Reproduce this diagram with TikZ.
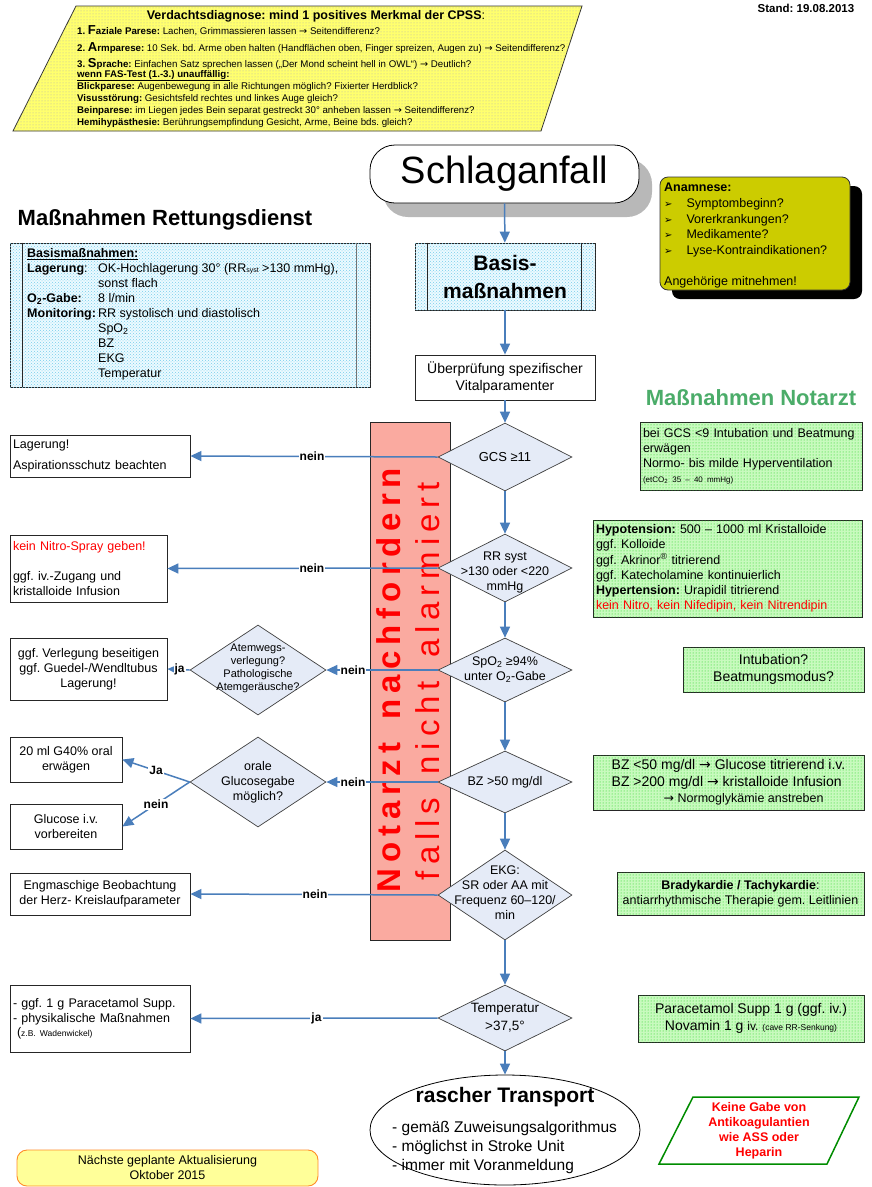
\documentclass[tikz,border=0pt]{standalone}
\usepackage{fontspec}
\setmainfont{Liberation Sans}
\newfontfamily\dejavu{DejaVu Sans}
\newfontfamily\barfont[LetterSpace=18]{Liberation Sans}
\usetikzlibrary{shapes.geometric,patterns,arrows.meta,shadows}
\newcommand\fs[2]{\fontsize{#1}{#2}\selectfont}
\newcommand\ra{{\dejavu →}}
\definecolor{arrowblue}{RGB}{74,126,187}
\definecolor{diafill}{RGB}{229,235,247}
\definecolor{barred}{RGB}{250,170,160}
\definecolor{ntgreen}{RGB}{75,172,105}
\definecolor{olivey}{RGB}{204,204,0}
\definecolor{ylw}{RGB}{255,255,110}
\definecolor{cyanbg}{RGB}{236,250,255}
\definecolor{cyandot}{RGB}{120,205,235}
\definecolor{greenbg}{RGB}{200,250,190}
\definecolor{greendot}{RGB}{20,210,20}
\definecolor{nbfill}{RGB}{255,255,153}
\definecolor{nbdraw}{RGB}{255,140,40}
\definecolor{kgreen}{RGB}{0,140,0}
\begin{document}
\frenchspacing
\begin{tikzpicture}[x=1pt,y=-1pt,
 arr/.style={draw=arrowblue, line width=1.5pt, -{Triangle[length=11pt,width=10pt]}},
 lab/.style={fill=white, inner sep=1pt, font=\fs{12}{14}\bfseries},
 box/.style={draw=black!85, line width=0.8pt, fill=white, inner sep=3pt, font=\fs{12.5}{15}},
 diam/.style={diamond, draw=black!75, line width=0.7pt, fill=diafill, inner sep=0pt},
 dtext/.style={font=\fs{12.5}{15}, align=center, inner sep=0pt},
 gbox/.style={draw=black!85, line width=0.9pt, fill=greenbg, postaction={pattern=dots, pattern color=greendot}, inner sep=3pt, font=\fs{12.5}{15}},
 ptxt/.style={anchor=base west, inner sep=0pt, font=\fs{9.7}{11}},
 head/.style={font=\fs{22}{24}\bfseries, inner sep=0pt},
]
\useasboundingbox (0,0) rectangle (872,1187);
\fill[white] (0,0) rectangle (872,1187);

% ---------- top parallelogram (CPSS)
\path[draw=black!80, line width=0.8pt, fill=ylw, postaction={pattern=dots, pattern color=black!30}]
  (76,6) -- (582,6) -- (541,131) -- (13,131) -- cycle;
\node[anchor=base, inner sep=0pt, font=\fs{12.5}{14}\bfseries] (cpss) at (316,19) {Verdachtsdiagnose: mind 1 positives Merkmal der CPSS\mdseries:};
\node[ptxt] (c1) at (77,34) {\textbf{1. {\fs{13}{13}F}aziale Parese:} Lachen, Grimmassieren lassen \ra{} Seitendifferenz?};
\node[ptxt] (c2) at (77,51) {\textbf{2. {\fs{13}{13}A}rmparese:} 10 Sek. bd. Arme oben halten (Handflächen oben, Finger spreizen, Augen zu) \ra{} Seitendifferenz?};
\node[ptxt] (c3) at (77,67) {\textbf{3. {\fs{13}{13}S}prache:} Einfachen Satz sprechen lassen („Der Mond scheint hell in OWL“) \ra{} Deutlich?};
\node[ptxt] (c4) at (77,77) {\textbf{\underline{wenn FAS-Test (1.-3.) unauffällig:}}};
\node[ptxt] (c5) at (77,89) {\textbf{Blickparese:} Augenbewegung in alle Richtungen möglich? Fixierter Herdblick?};
\node[ptxt] (c6) at (77,101) {\textbf{Visusstörung:} Gesichtsfeld rechtes und linkes Auge gleich?};
\node[ptxt] (c7) at (77,113) {\textbf{Beinparese:} im Liegen jedes Bein separat gestreckt 30° anheben lassen \ra{} Seitendifferenz?};
\node[ptxt] (c8) at (77,125) {\textbf{Hemihypästhesie:} Berührungsempfindung Gesicht, Arme, Beine bds. gleich?};

\node[font=\fs{11.5}{13}\bfseries, inner sep=0pt] (stand) at (806,8) {Stand: 19.08.2013};

% ---------- headings
\node[head] (hrd) at (165,220) {Maßnahmen Rettungsdienst};
\node[head, text=ntgreen] (hna) at (751,398) {Maßnahmen Notarzt};

% ---------- Schlaganfall
\node[draw=black, line width=0.8pt, fill=white, rounded corners=25pt, minimum width=269, minimum height=58,
  font=\fs{38}{40}, drop shadow={shadow xshift=13pt, shadow yshift=-14pt, fill=black!28, opacity=1}] (start) at (504.5,174) {Schlaganfall};

% ---------- Rettungsdienst Basis box
\node[draw=black!85, line width=0.8pt, fill=cyanbg, postaction={pattern=crosshatch dots, pattern color=cyandot},
  minimum width=360, minimum height=144] (rdbox) at (190,315) {};
\draw[black!85, line width=0.8pt] ([xshift=13pt]rdbox.north west) -- ([xshift=13pt]rdbox.south west);
\draw[black!55, line width=1.4pt] ([xshift=-14pt]rdbox.north east) -- ([xshift=-14pt]rdbox.south east);
\node[anchor=north west, inner sep=0pt, align=left, font=\fs{12.5}{15}] (rdtext) at (27,248) {%
\textbf{\underline{Basismaßnahmen:}}\\
\makebox[71pt][l]{\textbf{Lagerung}:}OK-Hochlagerung 30° (RR{\fs{7}{7}syst} >130 mmHg),\\
\makebox[71pt][l]{}sonst flach\\
\makebox[71pt][l]{\textbf{O\textsubscript{2}-Gabe:}}8 l/min\\
\makebox[71pt][l]{\textbf{Monitoring:}}RR systolisch und diastolisch\\
\makebox[71pt][l]{}SpO\textsubscript{2}\\
\makebox[71pt][l]{}BZ\\
\makebox[71pt][l]{}EKG\\
\makebox[71pt][l]{}Temperatur};

% ---------- Basismassnahmen box (center)
\node[draw=black!85, line width=0.8pt, fill=cyanbg, postaction={pattern=crosshatch dots, pattern color=cyandot},
  minimum width=180, minimum height=67, align=center, font=\fs{21}{28}\bfseries] (basis) at (505,276.5) {Basis-\\maßnahmen};
\draw[black!85, line width=0.8pt] ([xshift=13pt]basis.north west) -- ([xshift=13pt]basis.south west);
\draw[black!85, line width=0.8pt] ([xshift=-14pt]basis.north east) -- ([xshift=-14pt]basis.south east);

% ---------- Anamnese
\node[draw=black!80, line width=0.8pt, fill=olivey, rounded corners=8pt, minimum width=190, minimum height=113,
  drop shadow={shadow xshift=12pt, shadow yshift=-9pt, fill=black, opacity=1}] (anam) at (755,233.5) {};
\node[anchor=north west, inner sep=0pt, align=left, font=\fs{12.5}{15.6}] (anamtext) at (664,183) {%
\textbf{Anamnese:}\\
{\dejavu\fs{10}{10}➢}\hspace{14pt}Symptombeginn?\\
{\dejavu\fs{10}{10}➢}\hspace{14pt}Vorerkrankungen?\\
{\dejavu\fs{10}{10}➢}\hspace{14pt}Medikamente?\\
{\dejavu\fs{10}{10}➢}\hspace{14pt}Lyse-Kontraindikationen?\\[15.6pt]
Angehörige mitnehmen!};

% ---------- Ueberpruefung
\node[box, minimum width=180, minimum height=45, align=center, font=\fs{14}{17}] (check) at (505,377.5) {Überprüfung spezifischer\\Vitalparamenter};

% ---------- red bar
\node[draw=black!85, line width=0.8pt, fill=barred, minimum width=80, minimum height=518] (bar) at (410,681) {};
\node[rotate=90, text=red, inner sep=0pt, font=\barfont\bfseries\fs{33}{33}] (bar1) at (389,680) {Notarzt\hspace{8pt} nachfordern};
\node[rotate=90, text=red, inner sep=0pt, font=\barfont\fs{33}{33}] (bar2) at (428,681) {falls\hspace{8pt} nicht\hspace{8pt} alarmiert};

% ---------- main diamonds
\node[diam, minimum width=134, minimum height=68] (gcs) at (505,457) {};
\node[dtext, font=\fs{13}{15}] (gcst) at (505,457) {GCS ≥11};
\node[diam, minimum width=134, minimum height=68] (rr) at (505,568) {};
\node[dtext] (rrt) at (505,572) {RR syst\\>130 oder <220\\mmHg};
\node[diam, minimum width=134, minimum height=64] (spo) at (505,670) {};
\node[dtext] (spot) at (505,670) {SpO\textsubscript{2} ≥94\%\\unter O\textsubscript{2}-Gabe};
\node[diam, minimum width=134, minimum height=62] (bz) at (505,782) {};
\node[dtext] (bzt) at (505,782) {BZ >50 mg/dl};
\node[diam, minimum width=134, minimum height=90] (ekg) at (505,895) {};
\node[dtext] (ekgt) at (505,893) {EKG:\\SR oder AA mit\\Frequenz 60–120/\\min};
\node[diam, minimum width=134, minimum height=66] (temp) at (505,1018) {};
\node[dtext, font=\fs{13.5}{18}] (tempt) at (505,1018) {Temperatur\\>37,5°};

% ---------- side diamonds
\node[diam, minimum width=136, minimum height=90] (atem) at (258,670) {};
\node[dtext, font=\fs{11}{13}] (atemt) at (258,668) {Atemwegs-\\verlegung?\\Pathologische\\Atemgeräusche?};
\node[diam, minimum width=136, minimum height=90] (gluc) at (258,782) {};
\node[dtext] (glut) at (258,782) {orale\\Glucosegabe\\möglich?};

% ---------- left boxes
\node[box, minimum width=180, minimum height=42, text width=174pt, align=left] (lag) at (100,456) {Lagerung!\\[6pt]Aspirationsschutz beachten};
\node[box, minimum width=157, minimum height=67, text width=151pt, align=left] (nitro) at (88.5,568.5) {\textcolor{red}{kein Nitro-Spray geben!}\\[15pt]ggf. iv.-Zugang und\\kristalloide Infusion};
\node[box, minimum width=157, minimum height=62, align=center] (verl) at (88.5,669) {ggf. Verlegung beseitigen\\ggf. Guedel-/Wendltubus\\Lagerung!};
\node[box, minimum width=112, minimum height=45, align=center] (g40) at (66,759.5) {20 ml G40\% oral\\erwägen};
\node[box, minimum width=112, minimum height=45, align=center] (glciv) at (66,826.5) {Glucose i.v.\\vorbereiten};
\node[box, minimum width=180, minimum height=42, align=center] (engm) at (100,894) {Engmaschige Beobachtung\\der Herz- Kreislaufparameter};
\node[box, minimum width=180, minimum height=67, text width=174pt, align=left] (para) at (100,1018.5) {- ggf. 1 g Paracetamol Supp.\\- physikalische Maßnahmen\\[-1pt]\hspace*{4pt}({\fs{8.5}{10}z.B. Wadenwickel)}\\[-3pt]};

% ---------- right green boxes
\node[gbox, minimum width=222, minimum height=68, text width=216pt, align=left] (ngcs) at (751,456) {bei GCS <9 Intubation und Beatmung\\erwägen\\Normo- bis milde Hyperventilation\\{\fs{8}{10}(etCO\textsubscript{2} 35 – 40 mmHg)}};
\node[gbox, minimum width=269, minimum height=97, text width=263pt, align=left, font=\fs{12.5}{15.2}] (nrr) at (727.5,568.5) {\textbf{Hypotension:} 500 – 1000 ml Kristalloide\\ggf. Kolloide\\ggf. Akrinor\textsuperscript{®} titrierend\\ggf. Katecholamine kontinuierlich\\\textbf{Hypertension:} Urapidil titrierend\\\textcolor{red}{kein Nitro, kein Nifedipin, kein Nitrendipin}};
\node[gbox, minimum width=181, minimum height=45, align=center, font=\fs{14}{17}] (nint) at (773.5,669.5) {Intubation?\\Beatmungsmodus?};
\node[gbox, minimum width=271, minimum height=55, align=left, font=\fs{14}{16.5}] (nbz) at (728.5,782.5) {BZ <50 mg/dl \ra{} Glucose titrierend i.v.\\BZ >200 mg/dl \ra{} kristalloide Infusion\\\hspace*{52pt}{\fs{12.5}{14}\ra{} Normoglykämie anstreben}};
\node[gbox, minimum width=247, minimum height=43, align=center] (nekg) at (740.5,893.5) {\textbf{Bradykardie / Tachykardie}:\\antiarrhythmische Therapie gem. Leitlinien};
\node[gbox, minimum width=226, minimum height=47, align=center, font=\fs{14}{16.5}] (ntemp) at (751,1018.5) {Paracetamol Supp 1 g (ggf. iv.)\\Novamin 1 g {\fs{12}{12}iv.} {\fs{8.5}{10}(cave RR-Senkung)}};

% ---------- Keine Gabe parallelogram
\path[draw=kgreen, line width=1.5pt, fill=white] (693,1097) -- (859,1097) -- (827,1164) -- (659,1164) -- cycle;
\node[align=center, text=red, font=\fs{12.5}{15}\bfseries, inner sep=0pt] (keine) at (759,1130.5) {Keine Gabe von\\Antikoagulantien\\wie ASS oder\\Heparin};

% ---------- rascher Transport
\node[ellipse, draw=black, line width=0.8pt, fill=white, minimum width=270, minimum height=110] (trans) at (505,1130) {};
\node[font=\fs{21}{24}\bfseries, inner sep=0pt] (transh) at (505,1097) {rascher Transport};
\node[anchor=north west, align=left, inner sep=0pt, font=\fs{15.5}{19}] (transl) at (392,1121) {- gemäß Zuweisungsalgorithmus\\- möglichst in Stroke Unit\\- immer mit Voranmeldung};

% ---------- Naechste Aktualisierung
\node[draw=nbdraw, line width=0.9pt, fill=nbfill, rounded corners=10pt, minimum width=301, minimum height=36,
  align=center, font=\fs{12.5}{15}] (next) at (167.5,1168) {Nächste geplante Aktualisierung\\Oktober 2015};

% ---------- vertical arrows
\draw[arr] (start) -- (basis);
\draw[arr] (basis) -- (check);
\draw[arr] (check) -- (gcs);
\draw[arr] (gcs) -- (rr);
\draw[arr] (rr) -- (spo);
\draw[arr] (spo) -- (bz);
\draw[arr] (bz) -- (ekg);
\draw[arr] (ekg) -- (temp);
\draw[arr] (temp) -- (trans);

% ---------- horizontal arrows
\draw[arr] (gcs.west) -- node[lab, pos=0.508] {nein} (lag.east);
\draw[arr] (rr.west) -- node[lab, pos=0.465] {nein} (nitro.east);
\draw[arr] (spo.west) -- node[lab, pos=0.76] {nein} (atem.east);
\draw[arr] (atem.west) -- node[lab, pos=0.45] {ja} (verl.east);
\draw[arr] (bz.west) -- node[lab, pos=0.76] {nein} (gluc.east);
\draw[arr] (gluc.west) -- node[lab, pos=0.5] {Ja} (g40.east);
\draw[arr] (gluc.west) -- node[lab, pos=0.5] {nein} (glciv.east);
\draw[arr] (ekg.west) -- node[lab, pos=0.496] {nein} (engm.east);
\draw[arr] (temp.west) -- node[lab, pos=0.49] {ja} (para.east);
\end{tikzpicture}
\end{document}
